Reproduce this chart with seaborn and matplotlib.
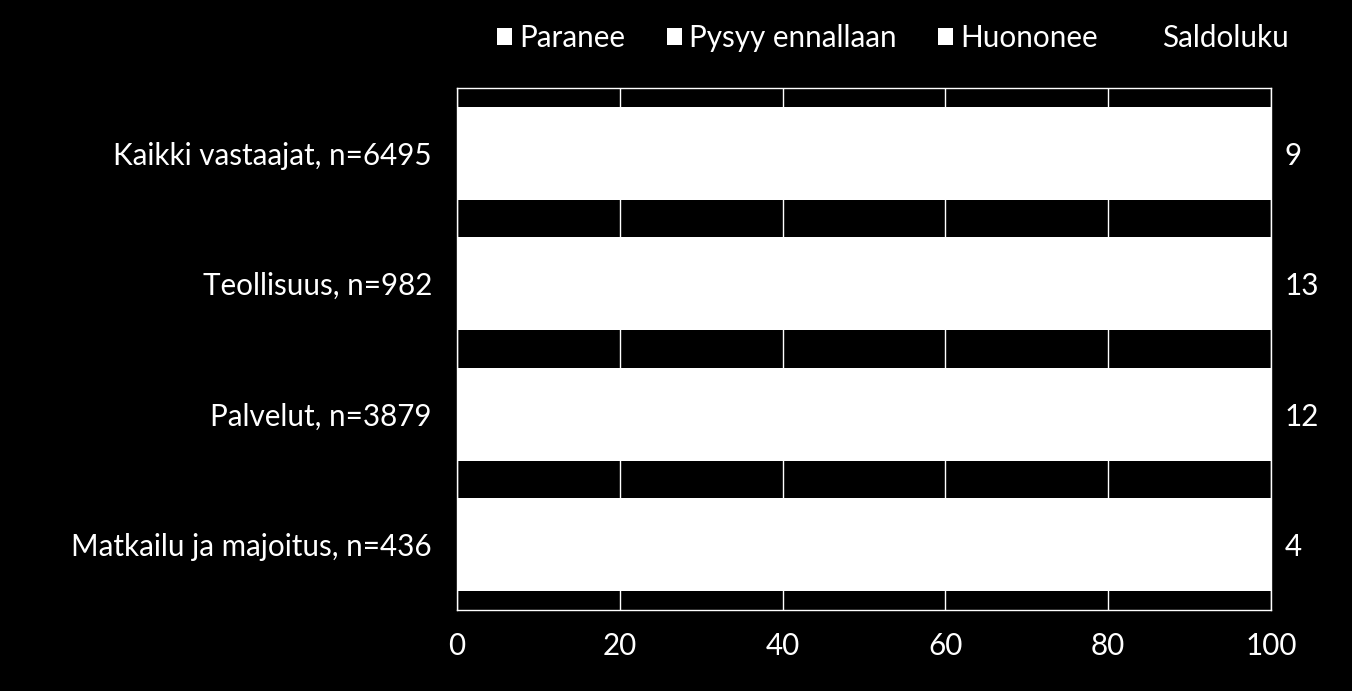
import matplotlib
matplotlib.use("Agg")
import matplotlib.pyplot as plt
import matplotlib.patches as mpatches
import seaborn as sns
import pandas as pd
import numpy as np

categories = ["Kaikki vastaajat, n=6495", "Teollisuus, n=982", "Palvelut, n=3879", "Matkailu ja majoitus, n=436"]
paranee = [25, 27, 26, 22]
pysyy = [59, 59, 60, 60]
huononee = [16, 14, 14, 18]
saldoluku = [9, 13, 12, 4]
series_names = ["Paranee", "Pysyy ennallaan", "Huononee"]
xticks = [0, 20, 40, 60, 80, 100]

sns.set_theme(style="white")
plt.rcParams['font.family'] = ['Lato', 'DejaVu Sans']
FS = 21.3

fig = plt.figure(figsize=(13.52, 6.91), dpi=100, facecolor="black")
ax = fig.add_axes([457/1352, 1 - 610/691, (1271-457)/1352, (610-88)/691])
ax.set_facecolor("black")

df = pd.DataFrame({"cat": categories, "p": paranee, "s": pysyy, "h": huononee})
df["c1"] = df["p"]
df["c2"] = df["p"] + df["s"]
df["c3"] = df["c2"] + df["h"]

ax.set_axisbelow(True)
ax.grid(axis="x", color="white", linewidth=1)
for col in ["c3", "c2", "c1"]:
    sns.barplot(data=df, y="cat", x=col, orient="h", color="white", width=0.71,
                saturation=1, ax=ax, edgecolor="none", linewidth=0)

ax.set_xlim(0, 100)
ax.set_ylim(3.5, -0.5)
ax.set_xticks(xticks)
ax.set_xticklabels([str(t) for t in xticks])
ax.set_xlabel("")
ax.set_ylabel("")
ax.tick_params(axis="both", colors="white", labelsize=FS, length=0)
ax.tick_params(axis="y", pad=18)
ax.tick_params(axis="x", pad=16)
for sp in ax.spines.values():
    sp.set_color("white")
    sp.set_linewidth(1)

for i, v in enumerate(saldoluku):
    ax.text(101.7, i + 0.02, str(v), color="white", fontsize=FS, va="center", ha="left")

handles = [mpatches.Patch(facecolor="white", edgecolor="none") for _ in series_names]
handles.append(mpatches.Patch(facecolor="none", edgecolor="none"))
labels = series_names + ["Saldoluku"]
leg = fig.legend(handles, labels, loc="center", bbox_to_anchor=(893/1352, 1 - 38/691),
                 ncol=4, frameon=False, fontsize=FS, handlelength=0.5, handleheight=0.5,
                 handletextpad=0.25, columnspacing=1.4)
for t in leg.get_texts():
    t.set_color("white")

fig.savefig("out.png", dpi=100, facecolor="black")
